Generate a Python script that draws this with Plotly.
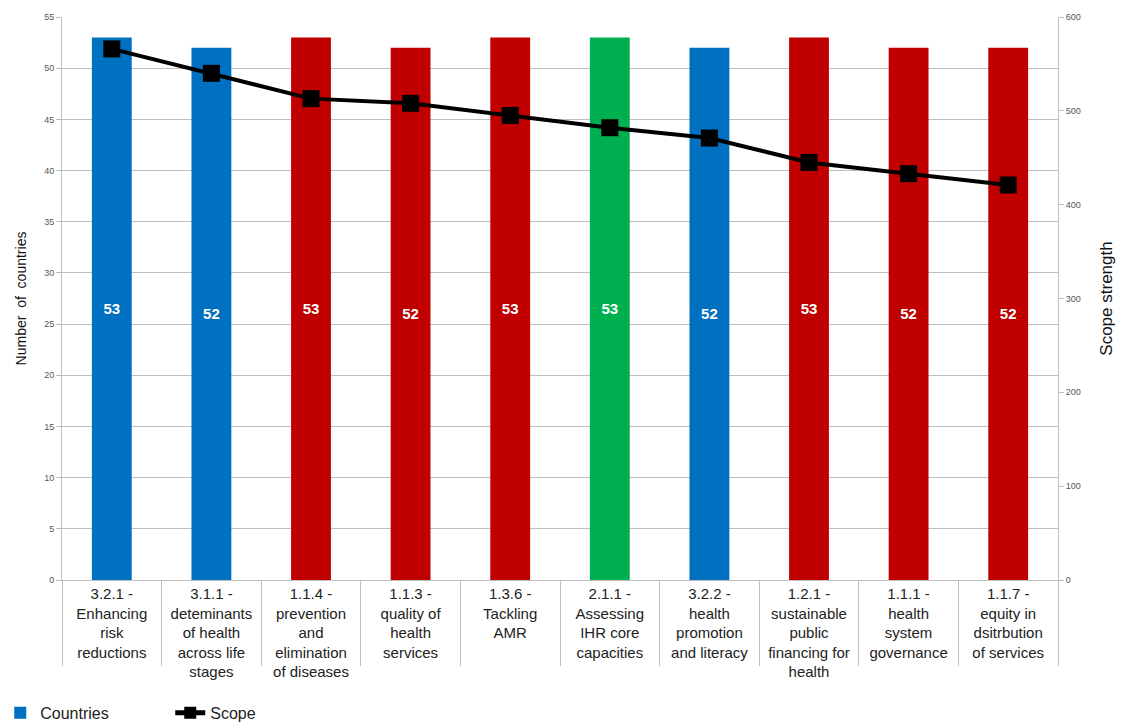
import plotly.graph_objects as go

categories = [
    "3.2.1 -<br>Enhancing<br>risk<br>reductions",
    "3.1.1 -<br>deteminants<br>of health<br>across life<br>stages",
    "1.1.4 -<br>prevention<br>and<br>elimination<br>of diseases",
    "1.1.3 -<br>quality of<br>health<br>services",
    "1.3.6 -<br>Tackling<br>AMR",
    "2.1.1 -<br>Assessing<br>IHR core<br>capacities",
    "3.2.2 -<br>health<br>promotion<br>and literacy",
    "1.2.1 -<br>sustainable<br>public<br>financing for<br>health",
    "1.1.1 -<br>health<br>system<br>governance",
    "1.1.7 -<br>equity in<br>dsitrbution<br>of services",
]
countries = [53, 52, 53, 52, 53, 53, 52, 53, 52, 52]
scope = [566, 540, 513, 508, 495, 482, 471, 445, 433, 421]
bar_colors = ["#0070C0", "#0070C0", "#C00000", "#C00000", "#C00000",
              "#00B050", "#0070C0", "#C00000", "#C00000", "#C00000"]

font_main = "Liberation Sans, Arial, sans-serif"

fig = go.Figure()
fig.add_trace(go.Bar(
    x=categories, y=countries, name="Countries",
    marker=dict(color=bar_colors, line=dict(width=0)),
    width=0.4,
    text=[str(v) for v in countries], textposition="inside",
    insidetextanchor="middle",
    textfont=dict(color="white", size=15, family=font_main),
    texttemplate="<b>%{text}</b>",
    yaxis="y",
))
fig.add_trace(go.Scatter(
    x=categories, y=scope, name="Scope", mode="lines+markers",
    line=dict(color="black", width=4),
    marker=dict(symbol="square", size=17, color="black"),
    yaxis="y2",
))

fig.update_layout(
    width=1123, height=722,
    margin=dict(l=62, r=65, t=17, b=142, autoexpand=False),
    plot_bgcolor="white", paper_bgcolor="white",
    font=dict(family=font_main, color="#222"),
    showlegend=True,
    legend=dict(orientation="h", x=-0.062, y=-0.236, xanchor="left", yanchor="middle",
                font=dict(size=16, color="#222"), traceorder="normal",
                itemsizing="constant", entrywidth=125, entrywidthmode="pixels",
                itemwidth=30),
    bargap=0.6,
    xaxis=dict(
        automargin=False, range=[-0.5, 9.5],
        showgrid=False, showline=True, linecolor="#bfbfbf", linewidth=1,
        ticks="outside", tickson="boundaries", ticklen=85, tickcolor="#bfbfbf",
        ticklabelstandoff=0,
        tickfont=dict(size=15, color="#222"), mirror=False,
    ),
    yaxis=dict(
        automargin=False,
        range=[0, 55], dtick=5, showgrid=True, gridcolor="#bfbfbf", gridwidth=1,
        showline=True, linecolor="#bfbfbf", ticks="outside", ticklen=5,
        tickcolor="#bfbfbf",
        tickfont=dict(size=9, color="#555"),
        title=dict(text="Number  of  countries", font=dict(size=14, color="#111"), standoff=14),
        zeroline=False,
    ),
    yaxis2=dict(
        automargin=False,
        range=[0, 600], dtick=100, overlaying="y", side="right", showgrid=False,
        showline=True, linecolor="#bfbfbf", ticks="outside", ticklen=5,
        tickcolor="#bfbfbf",
        tickfont=dict(size=9, color="#555"),
        title=dict(text="Scope strength", font=dict(size=17, color="#111"), standoff=20),
        zeroline=False,
    ),
)

fig.write_html("out.html")
